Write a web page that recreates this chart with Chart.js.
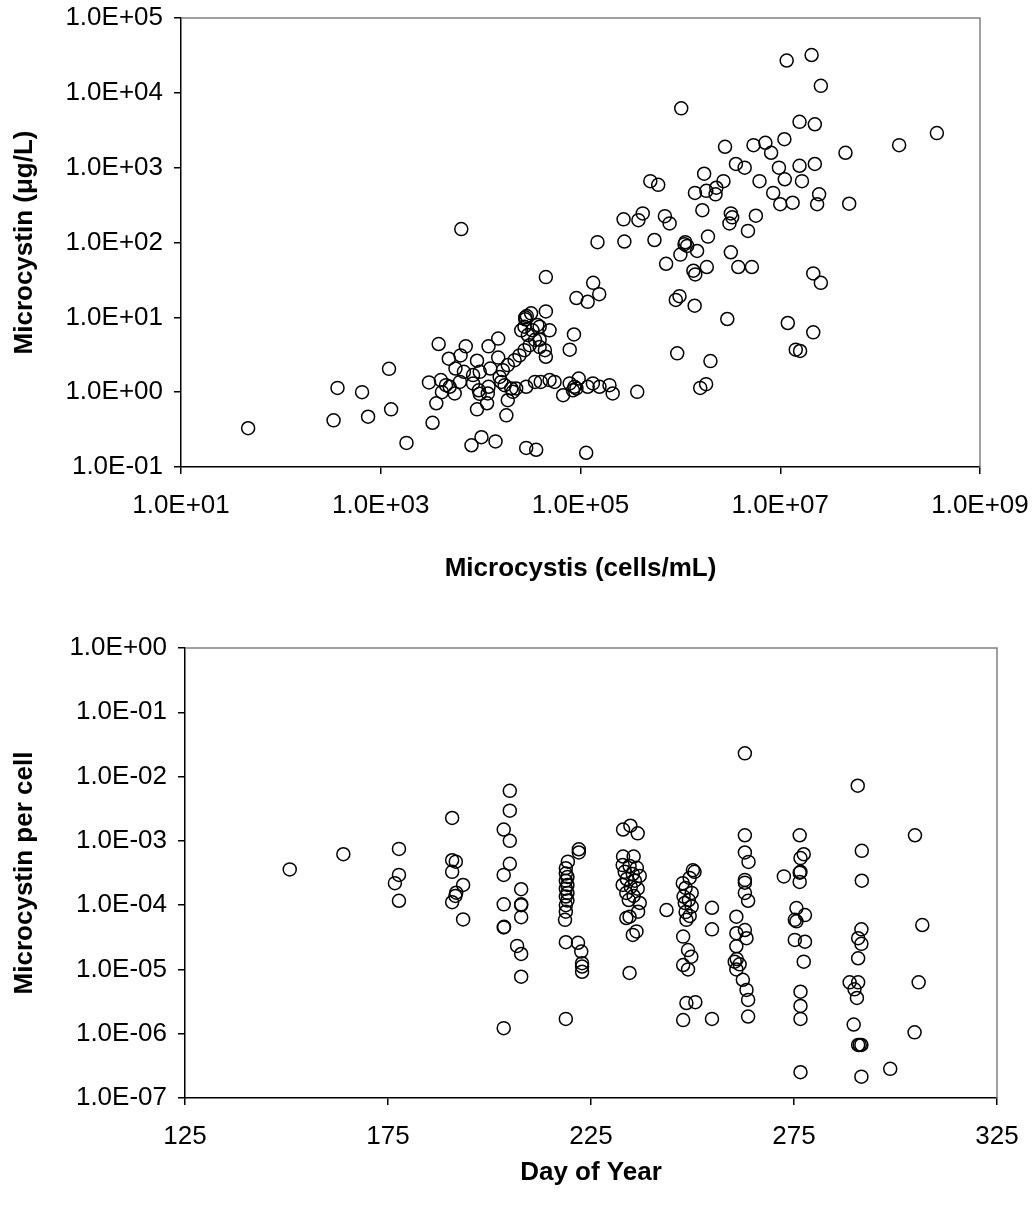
<!DOCTYPE html>
<html>
<head>
<meta charset="utf-8">
<script src="https://cdn.jsdelivr.net/npm/chart.js@4.4.1/dist/chart.umd.min.js"></script>
<style>
  body { margin: 0; background: #fff; }
  canvas { position: absolute; left: 0; }
</style>
</head>
<body>
<canvas id="toxinChart" width="1036" height="600" style="top:0"></canvas>
<canvas id="perCellChart" width="1036" height="611" style="top:600px"></canvas>
<script>
// Microcystis abundance (cells/mL) against microcystin (ug/L)
const cellsPerMl = [
    47, 337, 369, 650, 747, 1210, 1270, 1810, 3040, 3800, 4800, 4000, 4500, 4100, 3600, 3300, 4900,
    1.16e7, 2.06e7, 2.55e7, 1.02e6, 1.56e7, 2.22e7, 3.7e8, 1.55e8, 2.8e6, 5.4e6,
    7.1e6, 8.1e6, 1.1e7, 4.5e7, 3.6e6, 4.4e6, 9.7e6, 1.56e7, 2.22e7, 1.73e6,
    2.7e6, 2.29e6, 1.82e6, 1.4e6, 2.25e6, 6.2e6, 1.11e7, 1.65e7, 8.5e6, 2.45e7,
    2.34e7, 1.0e7, 1.33e7, 4.9e7, 5.0e5, 6.0e5, 2.7e5, 4.2e5, 3.8e5, 7.0e5,
    7.8e5, 1.66e6, 3.2e6, 3.3e6, 3.1e6, 5.7e6, 4.75e6, 1.89e6, 6.4e3, 1.48e5,
    2.75e5, 5.5e5, 1.12e6, 1.17e6, 1.1e6, 1.0e6, 1.47e6, 7.2e5, 1.35e6, 1.41e6,
    1.84e6, 3.2e6, 3.8e6, 5.2e6, 2.14e7, 2.55e7, 4.5e4, 1.34e5, 1.54e5, 9.1e4,
    1.18e5, 9.0e5, 9.8e5, 1.39e6, 2.95e6, 1.19e7, 2.14e7, 1.43e7, 1.58e7, 9.3e5,
    2.0e6, 1.58e6, 1.81e6, 8.6e4, 7.8e4, 4.5e4, 4.9e4, 3.7e5,
    7.1e3, 6.3e3, 1.2e4, 1.5e4, 5.6e3, 6.8e3, 9.2e3, 1.25e4, 1.5e4, 8.4e3,
    9.8e3, 5.5e3, 6.2e3, 8.4e3, 9.6e3, 9.8e3, 1.2e4, 1.18e4, 9.2e3, 1.16e4,
    1.55e4, 1.67e4, 1.61e4, 1.74e4, 2.03e4, 2.1e4, 1.87e4, 2.19e4, 2.45e4, 2.75e4,
    3.1e4, 3.5e4, 3.9e4, 4.4e4, 4.5e4, 1.87e4, 1.81e4, 2.27e4, 2.86e4, 3.5e4,
    4.0e4, 4.9e4, 5.5e4, 2.55e4, 2.75e4, 2.97e4, 3.3e4, 3.7e4, 3.9e4, 2.8e4,
    2.8e4, 2.9e4, 3.2e4, 3.9e4, 6.7e4, 7.8e4, 8.4e4, 8.7e4, 9.1e4, 9.6e4,
    1.18e5, 1.33e5, 1.55e5, 1.95e5, 2.1e5, 8.1e3, 1.02e4, 1.41e4, 2.86e4, 3.6e4,
    1.14e5
];
const microcystin = [
    0.33, 0.42, 1.14, 1.0, 0.47, 2.05, 0.59, 0.21, 1.35, 4.4, 2.8, 1.45, 1.24, 1.0, 0.71, 0.39, 1.18,
    2.7e4, 3.2e4, 1.24e4, 6.2e3, 4.1e3, 3.8e3, 2.9e3, 2.0e3, 1.9e3, 2.0e3,
    2.15e3, 1.58e3, 2.4e3, 1.58e3, 1.12e3, 1.0e3, 1.0e3, 1.06e3, 1.12e3, 830,
    660, 540, 490, 460, 440, 660, 700, 660, 460, 440,
    325, 325, 340, 330, 660, 590, 204, 245, 199, 225,
    180, 270, 245, 217, 180, 228, 143, 120, 151, 101,
    103, 108, 101, 90, 95, 69, 77, 52, 42, 37.5,
    47, 74, 47, 47, 38.6, 28.9, 34.5, 28.9, 20.4, 18.1,
    16.1, 17.1, 19.2, 14.3, 9.5, 8.4, 6.3, 3.7, 3.55, 3.3,
    2.6, 1.14, 1.28, 5.9, 3.7, 12.0, 6.7, 1.01,
    4.1, 3.1, 4.1, 5.2, 2.07, 1.87, 2.63, 2.07, 2.9, 1.69,
    1.87, 0.96, 1.37, 1.31, 1.06, 0.95, 1.18, 0.96, 0.59, 0.71,
    1.6, 1.97, 1.37, 1.24, 1.12, 1.01, 2.3, 2.68, 3.1, 3.64,
    4.25, 5.0, 4.0, 3.64, 2.97, 0.78, 0.49, 1.12, 1.18, 1.37,
    1.37, 1.45, 1.37, 6.7, 7.5, 5.8, 6.7, 7.9, 5.0, 10.0,
    9.4, 10.4, 11.3, 7.5, 0.91, 1.31, 1.06, 1.18, 1.12, 1.52,
    1.18, 1.31, 1.18, 1.24, 0.96, 0.195, 0.25, 0.22, 0.18, 0.17,
    0.155
];

// Microcystin per cell by sampling day
const dayOfYear = [
    150.8, 164.0, 177.7, 177.7, 176.7, 177.7,
    190.8, 190.8, 191.7, 190.8, 193.5, 191.8, 191.6, 190.8, 193.5,
    205.0, 205.0, 203.5, 205.0, 205.0, 203.5, 203.5, 203.5, 203.6, 203.5,
    207.8, 207.8, 207.8, 207.8, 206.8, 207.8, 207.8,
    219.3, 218.8, 218.8, 219.2, 218.8, 219.2, 218.8, 219.2, 218.8, 219.2, 218.8, 218.8, 218.6, 218.8, 218.8,
    222.0, 222.0, 221.8, 222.6, 222.8, 222.8, 222.8,
    234.7, 232.9, 236.5, 232.9, 235.5,
    232.8, 234.5, 236.3, 233.3, 235.3, 237.0, 233.8, 235.8, 232.8, 234.8, 236.5, 233.7, 235.5, 234.3, 237.0,
    236.6, 234.5, 233.7, 236.2, 235.3, 234.5,
    250.1, 250.5, 247.6, 249.3, 248.3, 249.8, 247.8, 249.1, 248.1, 249.8, 248.3, 249.3, 248.5,
    247.7, 248.9, 249.7, 247.7, 248.9, 248.5, 250.7, 247.7,
    243.6, 254.8, 254.8, 254.8,
    262.9, 262.9, 262.9, 263.8, 262.9, 262.9, 262.9, 263.7, 260.8, 260.8, 260.8, 262.9, 263.3,
    260.4, 260.8, 262.4, 263.3, 263.7, 263.7, 260.9, 261.6,
    272.5,
    276.4, 277.4, 276.6, 276.6, 276.4, 276.4, 275.6, 277.7, 275.2, 275.6, 275.2, 277.7, 277.4,
    276.6, 276.6, 276.6, 276.6,
    290.7, 291.7, 291.7, 291.6, 290.8, 291.6, 290.8, 288.7, 290.8, 289.9, 290.5, 289.7, 290.8,
    291.6, 291.2, 291.6,
    298.7, 304.8, 306.6, 305.7, 304.7
];
const toxinPerCell = [
    3.6e-4, 6.2e-4, 7.5e-4, 2.95e-4, 2.2e-4, 1.17e-4,
    2.27e-3, 5.0e-4, 4.75e-4, 3.3e-4, 2.06e-4, 1.56e-4, 1.39e-4, 1.11e-4, 6.0e-5,
    6.0e-3, 2.95e-3, 1.5e-3, 1.0e-3, 4.4e-4, 2.95e-4, 1.03e-4, 4.5e-5, 4.6e-5, 1.22e-6,
    1.77e-4, 1.03e-4, 1.0e-4, 6.5e-5, 2.32e-5, 1.74e-5, 7.7e-6,
    4.75e-4, 3.75e-4, 3.1e-4, 2.75e-4, 2.4e-4, 2.06e-4, 1.8e-4, 1.55e-4, 1.36e-4, 1.18e-4, 1.0e-4, 7.9e-5, 5.9e-5, 2.65e-5, 1.7e-6,
    7.4e-4, 6.6e-4, 2.6e-5, 1.9e-5, 1.25e-5, 1.11e-5, 9.2e-6,
    1.72e-3, 1.5e-3, 1.31e-3, 5.7e-4, 5.7e-4,
    4.2e-4, 4.07e-4, 3.8e-4, 3.3e-4, 3.05e-4, 2.85e-4, 2.55e-4, 2.4e-4, 2.06e-4, 1.92e-4, 1.8e-4, 1.55e-4, 1.39e-4, 1.2e-4, 1.08e-4,
    7.9e-5, 6.6e-5, 6.3e-5, 3.9e-5, 3.44e-5, 8.8e-6,
    3.5e-4, 3.3e-4, 2.2e-4, 2.65e-4, 1.85e-4, 1.55e-4, 1.36e-4, 1.2e-4, 1.08e-4, 9.5e-5, 7.8e-5, 6.8e-5, 5.9e-5,
    3.24e-5, 2.0e-5, 1.58e-5, 1.17e-5, 1.0e-5, 3.0e-6, 3.1e-6, 1.63e-6,
    8.4e-5, 9.1e-5, 4.2e-5, 1.7e-6,
    2.3e-2, 1.22e-3, 6.6e-4, 4.7e-4, 2.47e-4, 2.24e-4, 1.55e-4, 1.17e-4, 6.6e-5, 3.66e-5, 2.29e-5, 4.1e-5, 3.06e-5,
    1.32e-5, 1.0e-5, 6.9e-6, 4.8e-6, 3.36e-6, 1.85e-6, 1.45e-5, 1.2e-5,
    2.8e-4,
    1.22e-3, 6.2e-4, 5.4e-4, 3.3e-4, 3.2e-4, 2.3e-4, 9.0e-5, 7.0e-5, 5.9e-5, 5.6e-5, 2.88e-5, 2.7e-5, 1.32e-5,
    4.5e-6, 2.7e-6, 1.7e-6, 2.52e-7,
    7.2e-3, 7.0e-4, 2.4e-4, 4.2e-5, 3.06e-5, 2.5e-5, 1.49e-5, 6.3e-6, 6.3e-6, 4.9e-6, 3.6e-6, 1.39e-6, 6.7e-7,
    6.7e-7, 6.7e-7, 2.15e-7,
    2.84e-7, 1.22e-3, 4.9e-5, 6.3e-6, 1.05e-6
];

const cellTicks = [1e1, 1e3, 1e5, 1e7, 1e9];
const toxinTicks = [1e-1, 1e0, 1e1, 1e2, 1e3, 1e4, 1e5];
const dayTicks = [125, 175, 225, 275, 325];
const perCellTicks = [1e-7, 1e-6, 1e-5, 1e-4, 1e-3, 1e-2, 1e-1, 1e0];

const FONT = 'Arial, "Liberation Sans", sans-serif';

// Excel-style "1.0E+05" labels
function sci(v) {
    const e = Math.round(Math.log10(v));
    return '1.0E' + (e < 0 ? '-' : '+') + String(Math.abs(e)).padStart(2, '0');
}

// grey top/right edges of the plot area
const frame = {
    id: 'frame',
    beforeDatasetsDraw(chart) {
        const { ctx, chartArea: a } = chart;
        ctx.save();
        ctx.strokeStyle = '#808080';
        ctx.lineWidth = 1.5;
        ctx.beginPath();
        ctx.moveTo(a.left, a.top);
        ctx.lineTo(a.right, a.top);
        ctx.lineTo(a.right, a.bottom);
        ctx.stroke();
        ctx.restore();
    }
};

function axis(type, min, max, tickValues, fmt, title, titlePad, tickPad, size) {
    return {
        type, min, max,
        afterBuildTicks: s => { s.ticks = tickValues.map(value => ({ value })); },
        // fixed axis box so the plot area lands where it should; labels may overhang
        afterFit: s => {
            if (s.isHorizontal()) s.height = size; else s.width = size;
            s.paddingLeft = s.paddingRight = s.paddingTop = s.paddingBottom = 0;
        },
        ticks: {
            callback: fmt,
            autoSkip: false,
            maxRotation: 0,
            padding: tickPad,
            color: '#000',
            font: { family: FONT, size: 26 }
        },
        grid: { drawOnChartArea: false, drawTicks: true, tickLength: 7, color: '#000', lineWidth: 1.5 },
        border: { display: true, color: '#000', width: 1.5 },
        title: {
            display: true,
            text: title,
            color: '#000',
            padding: titlePad,
            font: { family: FONT, size: 26, weight: 'bold' }
        }
    };
}

function scatter(id, xs, ys, xAxis, yAxis, pad) {
    return new Chart(document.getElementById(id), {
        type: 'scatter',
        data: {
            datasets: [{
                data: xs.map((x, i) => ({ x, y: ys[i] })),
                pointStyle: 'circle',
                pointRadius: 6.5,
                borderWidth: 1.5,
                borderColor: '#000',
                backgroundColor: 'rgba(0,0,0,0)'
            }]
        },
        options: {
            responsive: false,
            animation: false,
            devicePixelRatio: 1,
            layout: { padding: pad },
            plugins: { legend: { display: false }, tooltip: { enabled: false } },
            scales: { x: xAxis, y: yAxis }
        },
        plugins: [frame]
    });
}

scatter('toxinChart', cellsPerMl, microcystin,
    axis('logarithmic', 1e1, 1e9, cellTicks, sci, 'Microcystis (cells/mL)',
        { top: 4, bottom: 16 }, 16, 133),
    axis('logarithmic', 1e-1, 1e5, toxinTicks, sci, 'Microcystin (\u03bcg/L)',
        { top: 9, bottom: 4 }, 11, 181),
    { top: 18, right: 56, left: 0, bottom: 0 });

scatter('perCellChart', dayOfYear, toxinPerCell,
    axis('linear', 125, 325, dayTicks, v => String(v), 'Day of Year',
        { top: 4, bottom: 23 }, 16, 113),
    axis('logarithmic', 1e-7, 1e0, perCellTicks, sci, 'Microcystin per cell',
        { top: 9, bottom: 4 }, 11, 185),
    { top: 48, right: 39, left: 0, bottom: 0 });
</script>
</body>
</html>
